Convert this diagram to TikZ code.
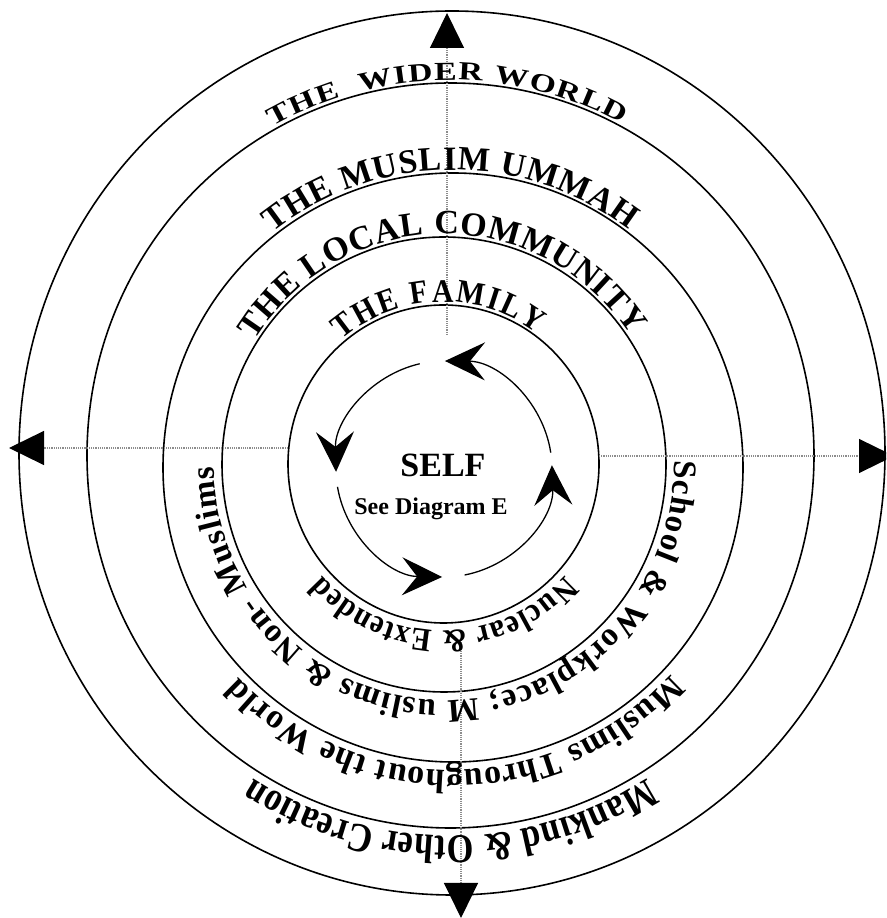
\documentclass[tikz,border=0pt]{standalone}
\usepackage{fontspec}
\setmainfont{Liberation Serif}
\newfontfamily\widefam{Liberation Serif}[FakeStretch=1.3]
\newfontfamily\tallfam{Liberation Serif}[FakeStretch=0.84]
\newfontfamily\narrowfam{Liberation Serif}[FakeStretch=0.9]
\usetikzlibrary{arrows.meta,decorations.text,positioning}

\newcommand\lblfont[1]{\fontsize{#1}{#1}\selectfont\bfseries}

\begin{document}
\begin{tikzpicture}[
    x=1pt, y=1pt,
    ring/.style={line width=1.6pt},
    axisarr/.style={draw=black!45, line width=1.2pt, densely dotted, -{Triangle[length=35pt,width=34pt,color=black,fill=black]}},
    cyc/.style={line width=1.3pt, -{Stealth[length=40pt,width=38pt,inset=15pt]}},
    ringlabel/.style 2 args={decorate, decoration={text along path, text align=fit to path, text={|#1|#2}}}
]
\useasboundingbox (0,0) rectangle (886,918);
\clip (0,0) rectangle (886,918);

\coordinate (c1) at (452,465);
\coordinate (c2) at (450.5,462.5);
\coordinate (c3) at (453,450.5);
\coordinate (c4) at (444,453.5);
\coordinate (c5) at (443.5,454);
\coordinate (cs) at (444,449);

\draw[ring] (c1) ellipse [x radius=433, y radius=442];
\draw[ring] (c2) ellipse [x radius=363.5, y radius=372.5];
\draw[ring] (c3) ellipse [x radius=290, y radius=294.5];
\draw[ring] (c4) ellipse [x radius=222, y radius=227.5];
\draw[ring] (c5) ellipse [x radius=155.5, y radius=159];

\coordinate (n-in) at (447,583);
\coordinate (n-out) at (447,905);
\coordinate (s-in) at (461,278);
\coordinate (s-out) at (461,0);
\coordinate (w-in) at (288,470);
\coordinate (w-out) at (9,470);
\coordinate (e-in) at (599,462);
\coordinate (e-out) at (894,462);
\draw[axisarr] (n-in) -- (n-out);
\draw[axisarr] (s-in) -- (s-out);
\draw[axisarr] (w-in) -- (w-out);
\draw[axisarr] (e-in) -- (e-out);

\path[ringlabel={\widefam\lblfont{26}}{THE {\ }WIDER WORLD}, shift={(c2)}] (119:366.5 and 375.5) arc[start angle=119, end angle=62, x radius=366.5, y radius=375.5];
\path[ringlabel={\lblfont{34}}{THE MUSLIM UMMAH}, shift={(c3)}] (128:293 and 297.5) arc[start angle=128, end angle=53, x radius=293, y radius=297.5];
\path[ringlabel={\lblfont{34}}{THE LOCAL COMMUNITY}, shift={(c4)}] (147.5:225 and 230.5) arc[start angle=147.5, end angle=34, x radius=225, y radius=230.5];
\path[ringlabel={\narrowfam\lblfont{33}}{THE FAMILY}, shift={(c5)}] (130:158.5 and 162) arc[start angle=130, end angle=54, x radius=158.5, y radius=162];

\path[ringlabel={\narrowfam\lblfont{33}}{Nuclear {\&} Extended}, shift={(c5)}] (-42:163.5 and 167) arc[start angle=-42, end angle=-138, x radius=163.5, y radius=167];
\path[ringlabel={\lblfont{33}}{School {\&} Workplace; M uslims {\&} Non- Muslims}, shift={(c4)}] (1:230 and 235.5) arc[start angle=1, end angle=-179.5, x radius=230, y radius=235.5];
\path[ringlabel={\lblfont{34}}{Muslims Throughout the World}, shift={(c3)}] (-43:298 and 302.5) arc[start angle=-43, end angle=-136, x radius=298, y radius=302.5];
\path[ringlabel={\tallfam\lblfont{41}}{Mankind {\&} Other Creation}, shift={(c2)}] (-58:371.5 and 380.5) arc[start angle=-58, end angle=-122, x radius=371.5, y radius=380.5];

\draw[cyc, shift={(cs)}] (103:108) arc[start angle=103, end angle=181.5, radius=108];
\draw[cyc, shift={(cs)}] (189.5:108) arc[start angle=189.5, end angle=269, radius=108];
\draw[cyc, shift={(cs)}] (281:108) arc[start angle=281, end angle=362, radius=108];
\draw[cyc, shift={(cs)}] (8.7:108) arc[start angle=8.7, end angle=89.5, radius=108];

\node[font={\lblfont{34}}, anchor=base] (self) at (443,441) {SELF};
\node[font={\lblfont{24}}, anchor=base] (seediag) at (431,403) {See Diagram E};
\end{tikzpicture}
\end{document}
